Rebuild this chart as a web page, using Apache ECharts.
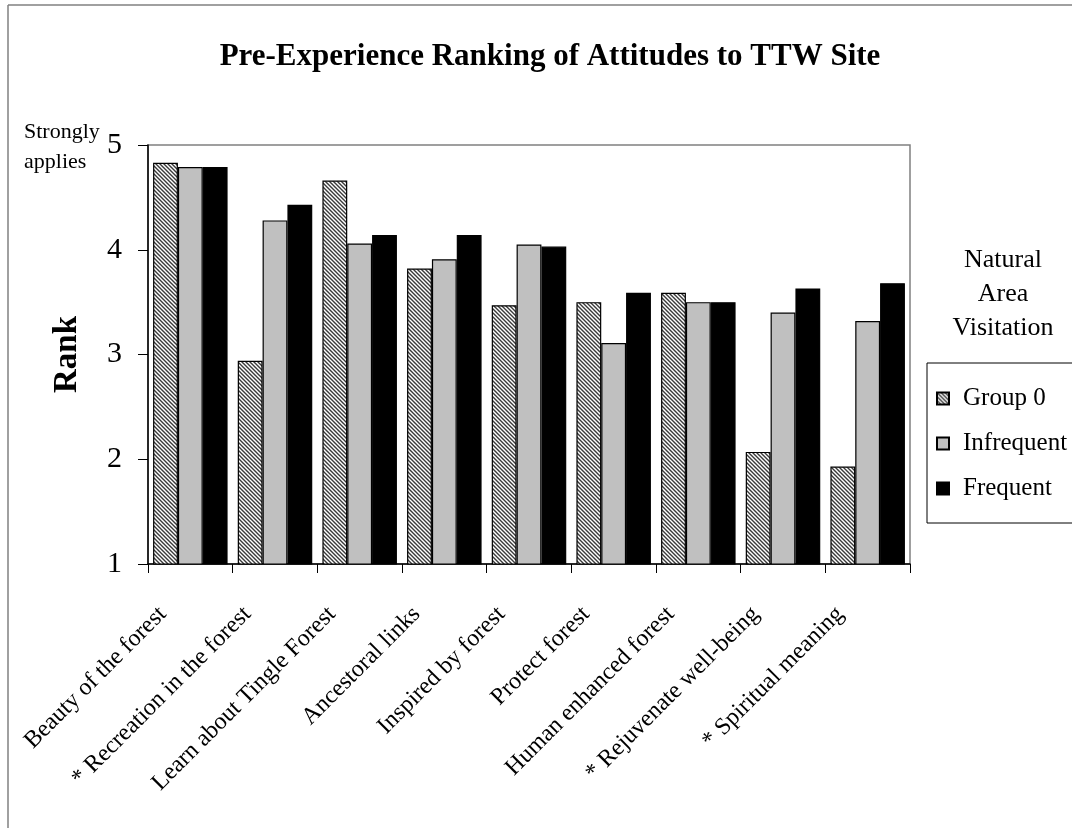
<!DOCTYPE html>
<html>
<head>
<meta charset="utf-8">
<style>
  html, body { margin: 0; padding: 0; background: #fff; }
  #chart { width: 1072px; height: 828px; }
</style>
<script src="https://cdn.jsdelivr.net/npm/echarts@6/dist/echarts.min.js"></script>
</head>
<body>
<div id="chart"></div>
<script>
// Attitude statements (x-axis categories)
const categories = [
  'Beauty of the forest',
  '* Recreation in the forest',
  'Learn about Tingle Forest',
  'Ancestoral links',
  'Inspired by forest',
  'Protect forest',
  'Human enhanced forest',
  '* Rejuvenate well-being',
  '* Spiritual meaning'
];

// Mean rank per visitation group
const group0     = [4.83, 2.94, 4.66, 3.82, 3.47, 3.50, 3.59, 2.07, 1.93];
const infrequent = [4.79, 4.28, 4.06, 3.91, 4.05, 3.11, 3.50, 3.40, 3.32];
const frequent   = [4.79, 4.43, 4.14, 4.14, 4.03, 3.59, 3.50, 3.63, 3.68];

const seriesNames = ['Group 0', 'Infrequent', 'Frequent'];
const yTicks = [1, 2, 3, 4, 5];

const SERIF = "'Liberation Serif', 'Times New Roman', serif";

// Diagonal hatch fill for the first group
function hatchPattern() {
  const c = document.createElement('canvas');
  c.width = 4; c.height = 4;
  const g = c.getContext('2d');
  g.fillStyle = '#ffffff';
  g.fillRect(0, 0, 4, 4);
  g.strokeStyle = '#3a3a3a';
  g.lineWidth = 1.4;
  g.beginPath();
  g.moveTo(-1, -1); g.lineTo(5, 5);
  g.moveTo(-1, 3); g.lineTo(1, 5);
  g.moveTo(3, -1); g.lineTo(5, 1);
  g.stroke();
  return c;
}

const chart = echarts.init(document.getElementById('chart'), null, { renderer: 'canvas' });

const gridLeft = 148, gridTop = 145, gridRight = 162, gridBottom = 264;

const option = {
  backgroundColor: '#ffffff',
  animation: false,
  title: {
    text: 'Pre-Experience Ranking of Attitudes to TTW Site',
    left: 545,
    textAlign: 'center',
    top: 36,
    textStyle: { fontFamily: SERIF, fontWeight: 'bold', fontSize: 31, color: '#000' }
  },
  legend: {
    data: seriesNames,
    orient: 'vertical',
    left: 936,
    top: 386,
    padding: 0,
    itemWidth: 12,
    itemHeight: 12,
    itemGap: 20,
    icon: 'rect',
    textStyle: { fontFamily: SERIF, fontSize: 25, color: '#000', padding: [0, 0, 0, 9] }
  },
  grid: { left: gridLeft, right: gridRight, top: gridTop, bottom: gridBottom, show: true,
          borderColor: '#808080', borderWidth: 1.5, backgroundColor: 'transparent' },
  xAxis: {
    type: 'category',
    data: categories,
    axisLine: { lineStyle: { color: '#000', width: 1.5 } },
    axisTick: { show: true, alignWithLabel: false, length: 9, lineStyle: { color: '#000' } },
    axisLabel: {
      interval: 0,
      rotate: 45,
      margin: 19,
      padding: [0, 39, 0, 0],
      fontFamily: SERIF,
      fontSize: 24,
      color: '#000'
    }
  },
  yAxis: {
    type: 'value',
    min: yTicks[0],
    max: yTicks[yTicks.length - 1],
    interval: 1,
    name: 'Rank',
    nameLocation: 'middle',
    nameGap: 64,
    nameRotate: 90,
    nameTextStyle: { fontFamily: SERIF, fontWeight: 'bold', fontSize: 33, color: '#000' },
    splitLine: { show: false },
    axisLine: { show: true, lineStyle: { color: '#000', width: 1.5 } },
    axisTick: { show: true, length: 10, lineStyle: { color: '#000' } },
    axisLabel: { margin: 26, fontFamily: SERIF, fontSize: 30, color: '#000' }
  },
  graphic: [
    // outer frame edges
    { type: 'line', shape: { x1: 8, y1: 5, x2: 1072, y2: 5 }, style: { stroke: '#808080', lineWidth: 1.5 } },
    { type: 'line', shape: { x1: 8, y1: 5, x2: 8, y2: 828 }, style: { stroke: '#808080', lineWidth: 1.5 } },
    { type: 'text', left: 24, top: 117,
      style: { text: 'Strongly\napplies', fontFamily: SERIF, fontSize: 22, lineHeight: 30, fill: '#000' } },
    { type: 'text', x: 1003, y: 243,
      style: { text: 'Natural\nArea\nVisitation', fontFamily: SERIF, fontSize: 26, lineHeight: 34,
               fill: '#000', textAlign: 'center' } },
    { type: 'rect', shape: { x: 927, y: 363, width: 200, height: 160 },
      style: { fill: 'none', stroke: '#000', lineWidth: 1 } }
  ],
  series: [
    { name: seriesNames[0], type: 'bar', data: group0, barGap: '0%', barCategoryGap: '12%',
      itemStyle: { color: { image: hatchPattern(), repeat: 'repeat' }, borderColor: '#000', borderWidth: 1.2 } },
    { name: seriesNames[1], type: 'bar', data: infrequent, barGap: '0%', barCategoryGap: '12%',
      itemStyle: { color: '#c0c0c0', borderColor: '#000', borderWidth: 1.2 } },
    { name: seriesNames[2], type: 'bar', data: frequent, barGap: '0%', barCategoryGap: '12%',
      itemStyle: { color: '#000000', borderColor: '#000', borderWidth: 1.2 } }
  ]
};

chart.setOption(option);
</script>
</body>
</html>
